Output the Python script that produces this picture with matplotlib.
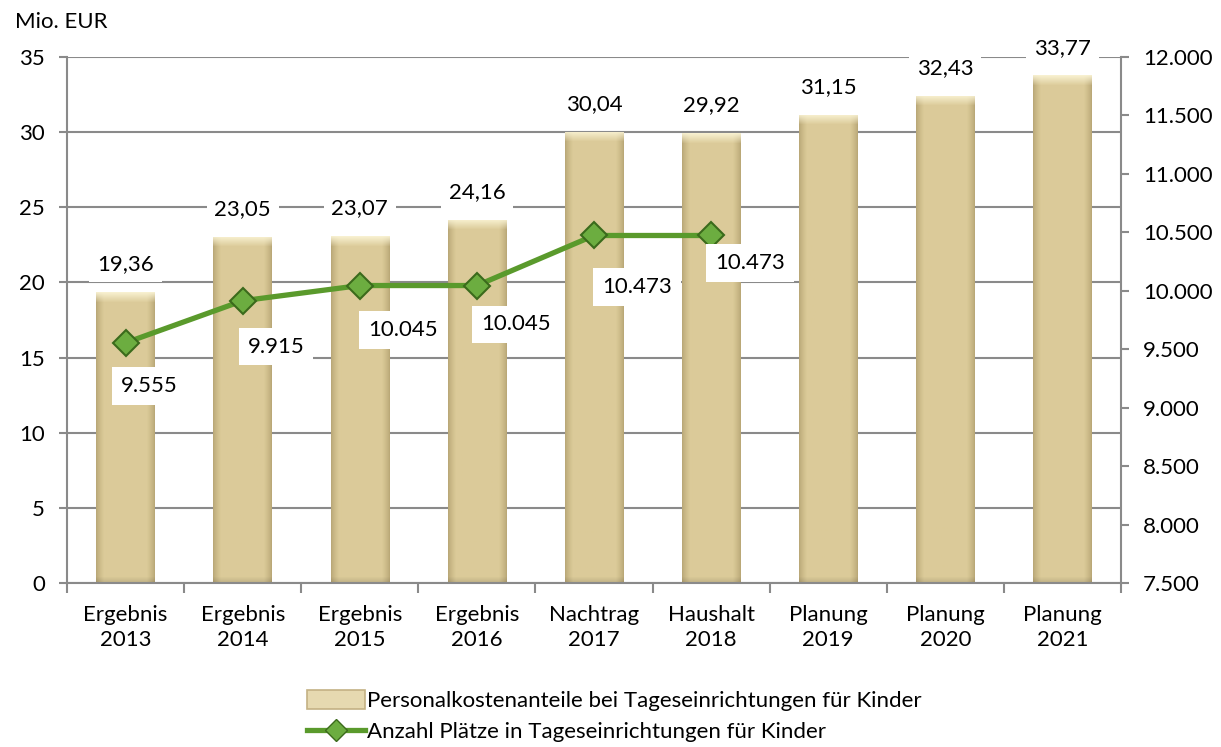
import numpy as np
import matplotlib
matplotlib.use('Agg')
import matplotlib.pyplot as plt
import matplotlib.ticker as mticker
from matplotlib.patches import Rectangle
from matplotlib.lines import Line2D

plt.rcParams.update({
    'font.family': ['Lato', 'DejaVu Sans'],
    'font.size': 16,
})

CATEGORIES = ['Ergebnis\n2013', 'Ergebnis\n2014', 'Ergebnis\n2015', 'Ergebnis\n2016',
              'Nachtrag\n2017', 'Haushalt\n2018', 'Planung\n2019', 'Planung\n2020',
              'Planung\n2021']
KOSTEN = [19.36, 23.05, 23.07, 24.16, 30.04, 29.92, 31.15, 32.43, 33.77]
PLAETZE = [9555, 9915, 10045, 10045, 10473, 10473]

# label offsets (points) for the Plaetze labels, relative to the marker
PLATZ_OFFSETS = [(17, -31), (24, -33), (31, -32), (28, -28), (31, -37), (28, -20)]

C_GRID = '#8a8a8a'
C_LINE = '#5a9a2c'
C_MARK = '#6cad40'
C_MARK_EDGE = '#3b6a1c'
FS = 16


def de_num(v, dec):
    s = f'{v:,.{dec}f}'
    return s.replace(',', 'X').replace('.', ',').replace('X', '.')


def bar_texture(n, m, top=10, bottom=6):
    # shading: darker at the side edges, light bevel on top, soft shadow at the foot
    xs = np.linspace(0, 1, n)
    edge = np.clip(np.minimum(xs, 1 - xs) / 0.13, 0, 1) ** 0.8
    base = np.array([0.860, 0.795, 0.600])
    dark = np.array([0.730, 0.660, 0.470])
    light = np.array([0.985, 0.960, 0.840])
    row = dark[None, :] + (base - dark)[None, :] * edge[:, None]
    img = np.repeat(row[None, :, :], m, axis=0)
    for i in range(min(top, m)):
        t = 1 - i / top
        img[i] = img[i] * (1 - 0.9 * t) + light * 0.9 * t
    for i in range(min(bottom, m)):
        t = 1 - i / bottom
        img[m - 1 - i] = img[m - 1 - i] * (1 - 0.12 * t)
    return np.clip(img, 0, 1)


fig = plt.figure(figsize=(12.21, 7.47), dpi=100)
ax = fig.add_axes([0.0549, 0.2195, 0.8632, 0.7042])
ax2 = ax.twinx()

x = np.arange(len(CATEGORIES))
ax.set_xlim(-0.5, len(CATEGORIES) - 0.5)
ax.set_ylim(0, 35)
bars = ax.bar(x, KOSTEN, width=0.5, color='#dccb9b', edgecolor='none', zorder=2)
px_per_unit = 0.7042 * 747 / 35
for b in bars:
    b.set_visible(False)
    h_px = max(int(round(b.get_height() * px_per_unit)), 1)
    tex = bar_texture(60, h_px)
    clip = Rectangle((b.get_x(), 0), b.get_width(), b.get_height(),
                     transform=ax.transData, facecolor='none', edgecolor='none')
    ax.add_patch(clip)
    im = ax.imshow(tex, extent=(b.get_x(), b.get_x() + b.get_width(), 0, b.get_height()),
                   aspect='auto', zorder=2, interpolation='bilinear')
    im.set_clip_path(clip)

for xi, v in zip(x, KOSTEN):
    ax.annotate(de_num(v, 2), (xi, v), xytext=(0, 20), textcoords='offset points',
                ha='center', va='center', fontsize=FS, zorder=5,
                bbox=dict(boxstyle='square,pad=0.35', fc='white', ec='none'))

ax.set_yticks(np.arange(0, 36, 5))
ax.yaxis.grid(True, color=C_GRID, lw=1.5, zorder=0)
ax.set_axisbelow(True)
ax.set_xticks(x)
ax.set_xticklabels(CATEGORIES, fontsize=FS, linespacing=1.3)
ax.xaxis.set_minor_locator(mticker.FixedLocator(np.arange(-0.5, len(CATEGORIES), 1)))
ax.tick_params(axis='x', which='major', length=0, pad=16)
ax.tick_params(axis='x', which='minor', length=7, width=1.5, color=C_GRID)
ax.tick_params(axis='y', length=6, width=1.5, color=C_GRID, labelsize=FS, pad=10)
for side in ['top', 'right']:
    ax.spines[side].set_visible(False)
for side in ['left', 'bottom']:
    ax.spines[side].set_color(C_GRID)
    ax.spines[side].set_linewidth(1.5)

ax2.plot(x[:len(PLAETZE)], PLAETZE, color=C_LINE, lw=3.8, zorder=4,
         marker='D', markersize=13, markerfacecolor=C_MARK,
         markeredgecolor=C_MARK_EDGE, markeredgewidth=1.5)
for xi, v, off in zip(x, PLAETZE, PLATZ_OFFSETS):
    ax2.annotate(de_num(v, 0), (xi, v), xytext=off, textcoords='offset points',
                 ha='center', va='center', fontsize=FS, zorder=6,
                 bbox=dict(boxstyle='square,pad=0.4', fc='white', ec='none'))
ax2.set_ylim(7500, 12000)
ax2.set_yticks(np.arange(7500, 12001, 500))
ax2.yaxis.set_major_formatter(mticker.FuncFormatter(lambda v, p: de_num(v, 0)))
ax2.tick_params(axis='y', length=6, width=1.5, color=C_GRID, labelsize=FS, pad=10)
for side in ['top', 'left', 'bottom']:
    ax2.spines[side].set_visible(False)
ax2.spines['right'].set_color(C_GRID)
ax2.spines['right'].set_linewidth(1.5)

fig.text(0.012, 0.97, 'Mio. EUR', fontsize=FS, va='center', ha='left')

bar_handle = Rectangle((0, 0), 1, 1, facecolor='#e6d9b0', edgecolor='#c4b184', lw=1.2)
line_handle = Line2D([], [], color=C_LINE, lw=3.8, marker='D', markersize=11,
                     markerfacecolor=C_MARK, markeredgecolor=C_MARK_EDGE)
fig.legend([bar_handle, line_handle],
           ['Personalkostenanteile bei Tageseinrichtungen für Kinder',
            'Anzahl Plätze in Tageseinrichtungen für Kinder'],
           loc='center', bbox_to_anchor=(0.503, 0.041), frameon=False,
           fontsize=FS, handlelength=2.6, handleheight=0.9, handletextpad=0.1,
           labelspacing=0.45)

fig.savefig('out.png', dpi=100)
